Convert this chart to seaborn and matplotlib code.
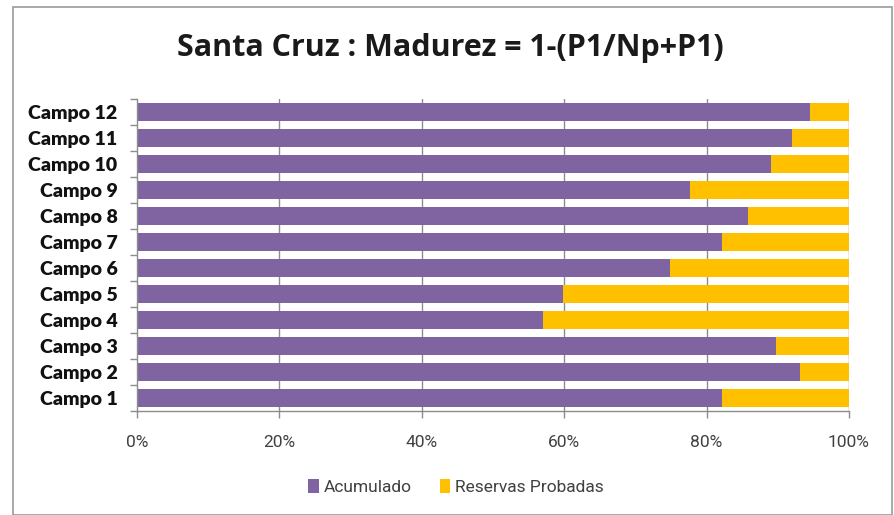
import matplotlib
matplotlib.use("Agg")
import matplotlib.pyplot as plt
import seaborn as sns
import pandas as pd
import numpy as np
from matplotlib.patches import Rectangle, Patch
from matplotlib.ticker import FixedLocator, PercentFormatter

campos = ["Campo 12", "Campo 11", "Campo 10", "Campo 9", "Campo 8", "Campo 7",
          "Campo 6", "Campo 5", "Campo 4", "Campo 3", "Campo 2", "Campo 1"]
acumulado = [94.5, 92.0, 89.1, 77.7, 85.8, 82.2, 74.9, 59.8, 57.0, 89.8, 93.1, 82.2]
reservas = [100 - a for a in acumulado]

title = "Santa Cruz : Madurez = 1-(P1/Np+P1)"
x_ticks = [0, 20, 40, 60, 80, 100]
series_names = ["Acumulado", "Reservas Probadas"]
c_purple = "#8064A2"
c_yellow = "#FFC000"

df = pd.DataFrame({"campo": campos, "acum": acumulado, "res": reservas})
df["total"] = df["acum"] + df["res"]

sns.set_theme(style="white")
W, H = 895, 515
fig = plt.figure(figsize=(W / 100, H / 100), dpi=100)
ax = fig.add_axes([137 / W, 1 - 411 / H, (849 - 137) / W, (411 - 99) / H])

sns.barplot(data=df, y="campo", x="total", order=campos, color=c_yellow,
            saturation=1, width=0.68, ax=ax, orient="h")
sns.barplot(data=df, y="campo", x="acum", order=campos, color=c_purple,
            saturation=1, width=0.68, ax=ax, orient="h")
for p in ax.patches:
    p.set_linewidth(0)

ax.set_xlim(0, 100)
ax.set_ylim(11.5, -0.5)
ax.set_xlabel("")
ax.set_ylabel("")

ax.xaxis.set_major_locator(FixedLocator(x_ticks))
ax.xaxis.set_major_formatter(PercentFormatter(decimals=0))
ax.grid(False)
for xv in x_ticks[1:]:
    ax.axvline(xv, color="#8C8C8C", lw=1.0, zorder=0)
ax.set_axisbelow(True)

for s in ["top", "right"]:
    ax.spines[s].set_visible(False)
for s in ["left", "bottom"]:
    ax.spines[s].set_color("#8C8C8C")
    ax.spines[s].set_linewidth(1.0)

ax.tick_params(axis="x", which="major", bottom=True, length=5, width=1,
               color="#8C8C8C", direction="out", pad=12,
               labelsize=12.5, labelcolor="#404040")
for lab in ax.get_xticklabels():
    lab.set_family(["Roboto", "DejaVu Sans"])

ax.tick_params(axis="y", which="major", left=False, length=0, pad=14)
ax.yaxis.set_minor_locator(FixedLocator(np.arange(-0.5, 12, 1)))
ax.tick_params(axis="y", which="minor", left=True, length=5, width=1,
               color="#8C8C8C", direction="out")
ax.set_yticks(range(len(campos)))
ax.set_yticklabels(campos, fontsize=14, fontweight="heavy",
                   family=["Lato", "DejaVu Sans"], color="#111111")

fig.text(450 / W, 1 - 48 / H, title, ha="center", va="center",
         fontsize=22, fontweight="bold", family=["Open Sans", "DejaVu Sans"],
         color="#1a1a1a")

handles = [Patch(facecolor=c_purple, edgecolor="none"),
           Patch(facecolor=c_yellow, edgecolor="none")]
leg = fig.legend(handles, series_names, loc="center", bbox_to_anchor=(456 / W, 1 - 487 / H),
                 ncol=2, frameon=False, handlelength=0.6, handleheight=0.9,
                 handletextpad=0.3, columnspacing=1.6,
                 prop={"family": ["Roboto", "DejaVu Sans"], "size": 12.5})
for t in leg.get_texts():
    t.set_color("#404040")

fig.patches.append(Rectangle((13 / W, 0), (892 - 13) / W, 1 - 7 / H,
                             transform=fig.transFigure, fill=False,
                             edgecolor="#9A9A9A", lw=1.2))

fig.savefig("out.png", dpi=100, facecolor="white")
